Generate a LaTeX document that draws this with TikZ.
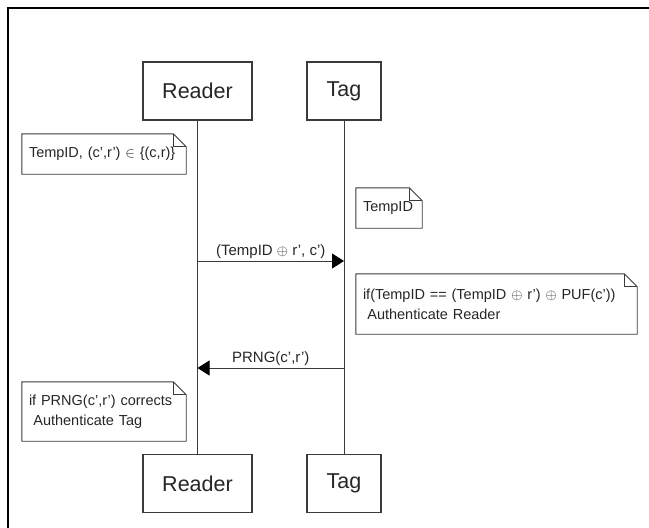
\documentclass[tikz,border=0pt]{standalone}
\usepackage{fontspec}
\setmainfont{Liberation Sans}
\usetikzlibrary{arrows.meta}
\definecolor{ink}{HTML}{262626}
\definecolor{linec}{HTML}{3A3A3A}
\begin{document}
\begin{tikzpicture}[x=1pt,y=-1pt,
  actor/.style={draw=linec,line width=1.1pt,fill=white,minimum height=58pt,text=ink,font=\fontsize{21.5}{24}\selectfont,inner sep=0pt},
  notetext/.style={text=ink,font=\fontsize{14.5}{20}\selectfont,align=left,inner xsep=7pt,inner ysep=0pt,anchor=center},
  noteline/.style={draw=linec,line width=0.9pt},
  life/.style={draw=linec,line width=0.9pt},
  msg/.style={draw=linec,line width=0.9pt,-{Triangle[length=12pt,width=15pt,color=black]}},
  msglabel/.style={text=ink,font=\fontsize{15}{16}\selectfont,inner sep=0pt,anchor=south}
]
\useasboundingbox (0,0) rectangle (649,528);
% frame (left and top sides only)
\draw[line width=2pt,black] (8,528) -- (8,7.5) -- (649,7.5);

% actors
\node[actor,minimum width=109pt] (rtop) at (197.5,91) {Reader};
\node[actor,minimum width=74pt] (ttop) at (344,91) {Tag};
\node[actor,minimum width=109pt] (rbot) at (197.5,483.5) {Reader};
\node[actor,minimum width=74pt] (tbot) at (344,483.5) {Tag};

% lifelines
\draw[life] (rtop.south) -- (rbot.north);
\draw[life] (ttop.south) -- (tbot.north);

% notes
\node[notetext,minimum width=164pt,minimum height=40pt,text width=150pt] (n1) at (104,154) {\mbox{TempID, (c',r') $\in$ \{(c,r)\}}};
\node[notetext,minimum width=66pt,minimum height=40pt,text width=52pt] (n2) at (389,208) {TempID};
\node[notetext,minimum width=281pt,minimum height=60pt,text width=267pt] (n3) at (496.5,304) {if(TempID == (TempID $\oplus$ r') $\oplus$ PUF(c'))\\\hspace{0.3em}Authenticate Reader};
\node[notetext,minimum width=164pt,minimum height=59pt,text width=150pt] (n4) at (104,411.5) {\mbox{if PRNG(c',r') corrects}\\\hspace{0.3em}Authenticate Tag};

\foreach \n in {n1,n2,n3,n4}{
  \draw[noteline] (\n.south west) -- (\n.north west) -- ([xshift=-13pt]\n.north east) -- ([yshift=-13pt]\n.north east) -- (\n.south east) -- cycle;
  \draw[noteline] ([xshift=-13pt]\n.north east) -- ([xshift=-13pt,yshift=-13pt]\n.north east) -- ([yshift=-13pt]\n.north east);
}

% messages
\coordinate (m1r) at (rtop.south |- 0,261);
\coordinate (m1t) at (ttop.south |- 0,261);
\coordinate (m2r) at (rtop.south |- 0,368);
\coordinate (m2t) at (ttop.south |- 0,368);
\draw[msg] (m1r) -- node[msglabel,yshift=2pt] (l1) {(TempID $\oplus$ r', c')} (m1t);
\draw[msg] (m2t) -- node[msglabel,yshift=2pt] (l2) {PRNG(c',r')} (m2r);
\end{tikzpicture}
\end{document}
